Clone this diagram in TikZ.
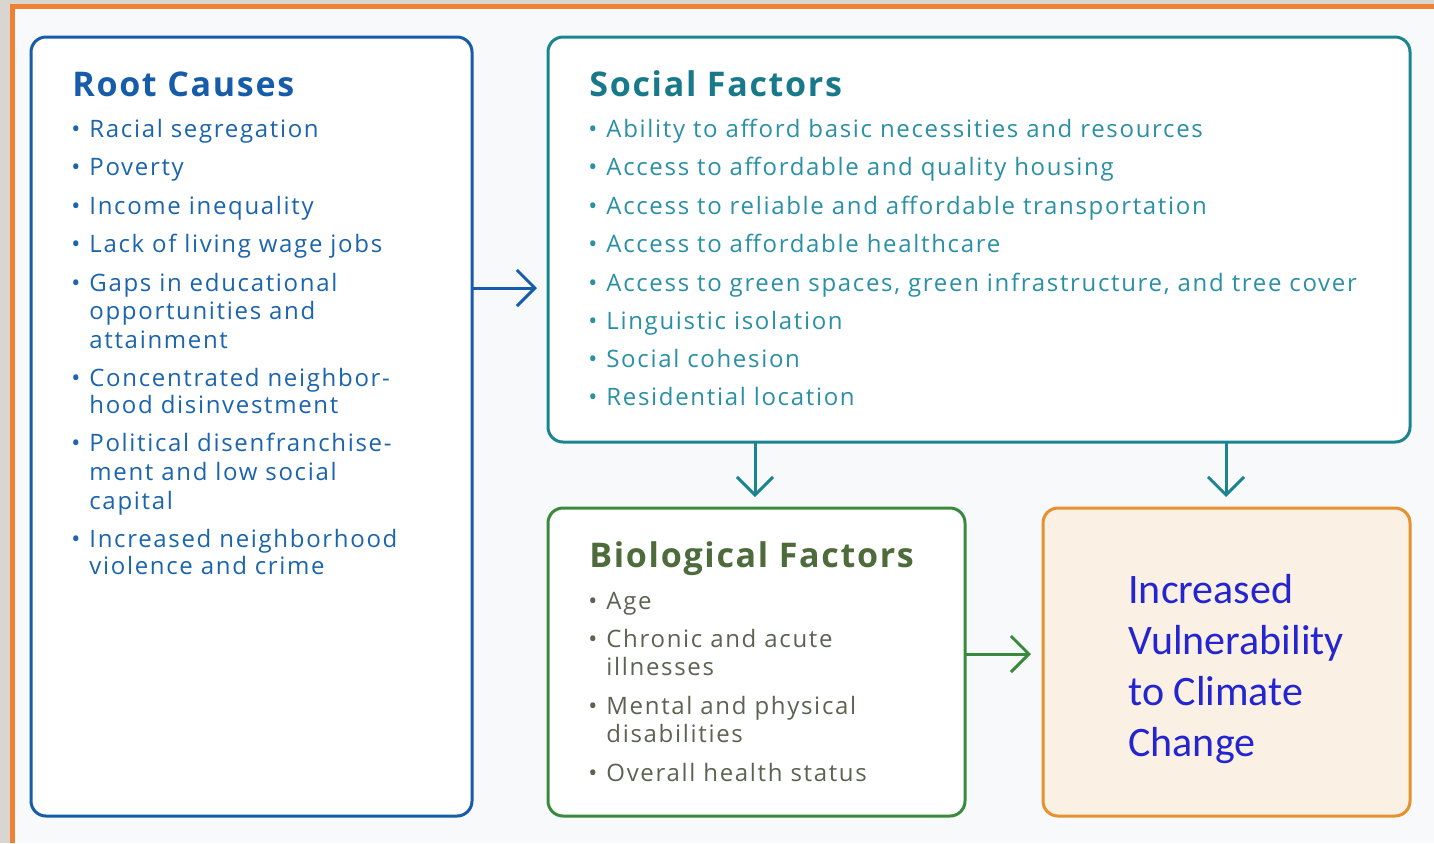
\documentclass[tikz,border=0pt]{standalone}
\usepackage{fontspec}
\setmainfont{Open Sans}
\newfontfamily\itmfont[LetterSpace=7]{Open Sans}
\newfontfamily\ttlfont[LetterSpace=5]{Open Sans}
\newfontfamily\calib{Carlito}
\usetikzlibrary{arrows.meta}
\definecolor{bgray}{HTML}{D9D6D2}
\definecolor{frameor}{HTML}{EF8232}
\definecolor{paper}{HTML}{F7F9FA}
\definecolor{rootc}{HTML}{175CAA}
\definecolor{roott}{HTML}{1B64AE}
\definecolor{socc}{HTML}{1A8591}
\definecolor{soct}{HTML}{17798A}
\definecolor{soci}{HTML}{2A90A6}
\definecolor{bioc}{HTML}{3A8A3E}
\definecolor{biot}{HTML}{4E6B3C}
\definecolor{bioi}{HTML}{5B6450}
\definecolor{outc}{HTML}{E6912E}
\definecolor{outf}{HTML}{FAF1E4}
\definecolor{outt}{HTML}{2424D0}
\tikzset{
  box/.style={draw, line width=1.5pt, rounded corners=7.5pt, fill=white, inner sep=0pt, outer sep=0pt},
  ttl/.style={anchor=base west, inner sep=0pt, font=\ttlfont\fontsize{17}{20}\selectfont\bfseries},
  itm/.style={anchor=base west, inner sep=0pt, font=\itmfont\fontsize{12}{14}\selectfont},
  bul/.style={anchor=base west, inner sep=0pt, font=\fontsize{12}{14}\selectfont},
  arr/.style={line width=1.5pt, -{Straight Barb[length=9pt, width=18pt, line width=1.5pt]}},
}
\begin{document}
\begin{tikzpicture}[x=0.5pt, y=-0.5pt]
\useasboundingbox (0,0) rectangle (1434,843);
\fill[bgray] (0,0) rectangle (1434,843);
\fill[frameor] (10,4) rectangle (1434,843);
\fill[paper] (15,9) rectangle (1434,843);

% boxes
\node[box, draw=rootc, minimum width=220.5pt, minimum height=389.5pt] (root) at (251.5,426.5) {};
\node[box, draw=socc, minimum width=431pt, minimum height=202.5pt] (social) at (979,239.5) {};
\node[box, draw=bioc, minimum width=208.5pt, minimum height=154pt] (bio) at (756.5,662) {};
\node[box, draw=outc, fill=outf, minimum width=183.5pt, minimum height=154pt] (out) at (1226.5,662) {};

% titles
\node[ttl, text=rootc] (rt) at (72,96) {Root Causes};
\node[ttl, text=soct] (st) at (589,96) {Social Factors};
\node[ttl, text=biot] (bt) at (589,567) {Biological Factors};

% root items
\foreach \y/\t [count=\i] in {137/Racial segregation, 175/Poverty, 214/Income inequality, 252/Lack of living wage jobs, 291/Gaps in educational, 386/Concentrated neighbor-, 451/Political disenfranchise-, 547/Increased neighborhood}{
  \node[bul, text=roott] (rb\i) at (71,\y) {\textbullet};
  \node[itm, text=roott] (ri\i) at (89,\y) {\t};
}
\foreach \y/\t [count=\i] in {319/opportunities and, 348/attainment, 413/hood disinvestment, 480/ment and low social, 509/capital, 574/violence and crime}{
  \node[itm, text=roott] (rc\i) at (89,\y) {\t};
}

% social items
\foreach \y/\t [count=\i] in {137/Ability to afford basic necessities and resources, 175/Access to affordable and quality housing, 214/Access to reliable and affordable transportation, 252/Access to affordable healthcare, 291/{Access to green spaces, green infrastructure, and tree cover}, 329/Linguistic isolation, 367/Social cohesion, 405/Residential location}{
  \node[bul, text=soci] (sb\i) at (588,\y) {\textbullet};
  \node[itm, text=soci] (si\i) at (606,\y) {\t};
}

% bio items
\foreach \y/\t [count=\i] in {609/Age, 647/Chronic and acute, 714/Mental and physical, 781/Overall health status}{
  \node[bul, text=bioi] (bb\i) at (588,\y) {\textbullet};
  \node[itm, text=bioi] (bi\i) at (606,\y) {\t};
}
\foreach \y/\t [count=\i] in {675/illnesses, 742/disabilities}{
  \node[itm, text=bioi] (bc\i) at (606,\y) {\t};
}

% outcome text
\foreach \y/\t [count=\i] in {603/Increased, 654/Vulnerability, 705/to Climate, 756/Change}{
  \node[anchor=base west, inner sep=0pt, text=outt, font=\calib\fontsize{21}{25}\selectfont] (o\i) at (1128,\y) {\t};
}

% arrows
\draw[arr, draw=rootc] (root.east |- 0,288) -- ([xshift=-5.5pt]social.west |- 0,288);
\draw[arr, draw=socc] (social.south -| 755,0) -- ([yshift=5.5pt]bio.north -| 755,0);
\draw[arr, draw=socc] (social.south -| 1226,0) -- ([yshift=5.5pt]out.north -| 1226,0);
\draw[arr, draw=bioc] (bio.east |- 0,654) -- ([xshift=-6pt]out.west |- 0,654);
\end{tikzpicture}
\end{document}
